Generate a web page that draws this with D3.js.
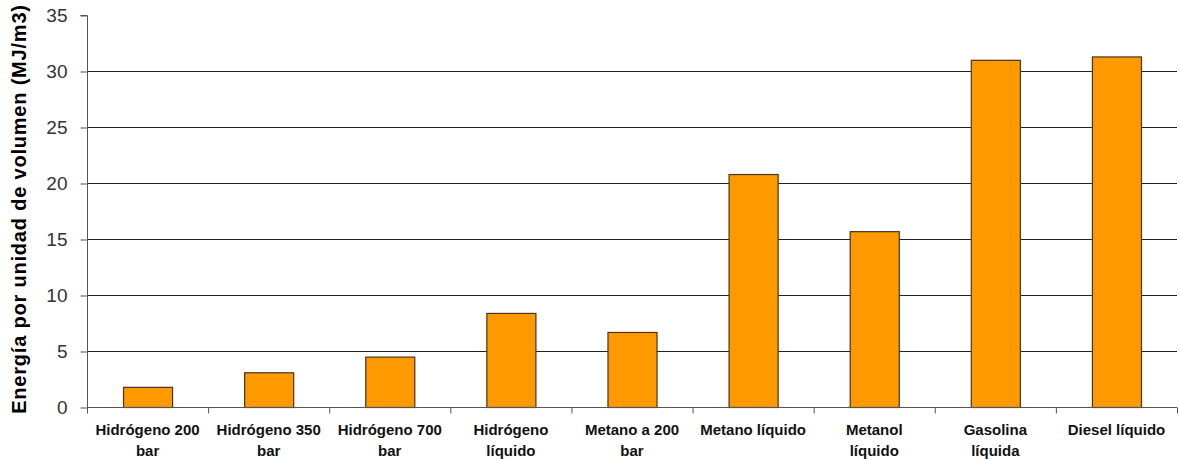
<!DOCTYPE html>
<html><head><meta charset="utf-8">
<script src="https://cdn.jsdelivr.net/npm/d3@7"></script>
<style>body{margin:0;background:#fff}svg{display:block}</style>
</head><body>
<svg id="c" width="1180" height="459"></svg>
<script>
const categories = [["Hidrógeno 200","bar"],["Hidrógeno 350","bar"],["Hidrógeno 700","bar"],["Hidrógeno","líquido"],["Metano a 200","bar"],["Metano líquido"],["Metanol","líquido"],["Gasolina","líquida"],["Diesel líquido"]];
const values = [1.8, 3.1, 4.5, 8.4, 6.7, 20.8, 15.7, 31.0, 31.3];
const yTicks = [0,5,10,15,20,25,30,35];
const yTitle = "Energía por unidad de volumen (MJ/m3)";

const svg = d3.select("#c");
const m = {l:87, r:1177, t:15, b:407};
const x = d3.scaleBand().domain(d3.range(categories.length)).range([m.l, m.r]);
const y = d3.scaleLinear().domain([0,35]).range([m.b, m.t]);

// gridlines
svg.append("g").selectAll("line").data(yTicks.filter(d=>d>0 && d<35)).join("line")
  .attr("x1", m.l).attr("x2", m.r).attr("y1", d=>y(d)+0.5).attr("y2", d=>y(d)+0.5)
  .attr("stroke", "#222").attr("stroke-width", 1);

// bars
const bw = x.bandwidth()*0.405;
svg.append("g").selectAll("rect").data(values).join("rect")
  .attr("x", (d,i)=>x(i)+x.bandwidth()/2-bw/2+0.5)
  .attr("y", d=>y(d)+0.5)
  .attr("width", bw).attr("height", d=>y(0)-y(d))
  .attr("fill", "#FF9900").attr("stroke", "#4a3320").attr("stroke-width", 1.2);

// y axis
const ya = svg.append("g").attr("transform", `translate(${m.l+0.5},0.5)`)
  .call(d3.axisLeft(y).tickValues(yTicks).tickSize(7).tickPadding(13));
ya.select(".domain").attr("stroke", "#555").attr("d", `M-7,${m.t}H0V${m.b}`);
ya.selectAll(".tick line").attr("stroke", "#555");
ya.selectAll(".tick text").attr("font-family", "Liberation Sans, Arial, sans-serif")
  .attr("font-size", 19).attr("fill", "#333");

// x axis
const xa = svg.append("g").attr("transform", `translate(0,${m.b+0.5})`);
xa.append("line").attr("x1", m.l).attr("x2", m.r).attr("stroke", "#555");
xa.selectAll(".t").data(d3.range(categories.length+1)).join("line")
  .attr("x1", i=> (i<categories.length? x(i): m.r)+0.5).attr("x2", i=> (i<categories.length? x(i): m.r)+0.5)
  .attr("y1", 0).attr("y2", 6).attr("stroke", "#555");
const lab = xa.selectAll("text").data(categories).join("text")
  .attr("font-family", "Liberation Sans, Arial, sans-serif").attr("font-weight", "bold")
  .attr("font-size", 15).attr("fill", "#111").attr("text-anchor", "middle")
  .attr("transform", (d,i)=>`translate(${x(i)+x.bandwidth()/2},0)`);
lab.selectAll("tspan").data(d=>d).join("tspan")
  .attr("x", 0).attr("y", (d,j)=>27 + j*21).text(d=>d);

// y title
svg.append("text").attr("transform", "translate(26,209) rotate(-90)")
  .attr("text-anchor", "middle").attr("font-family", "Liberation Sans, Arial, sans-serif")
  .attr("font-weight", "bold").attr("font-size", 20).attr("letter-spacing", "0.8")
  .attr("fill", "#000").text(yTitle);
</script>
</body></html>
